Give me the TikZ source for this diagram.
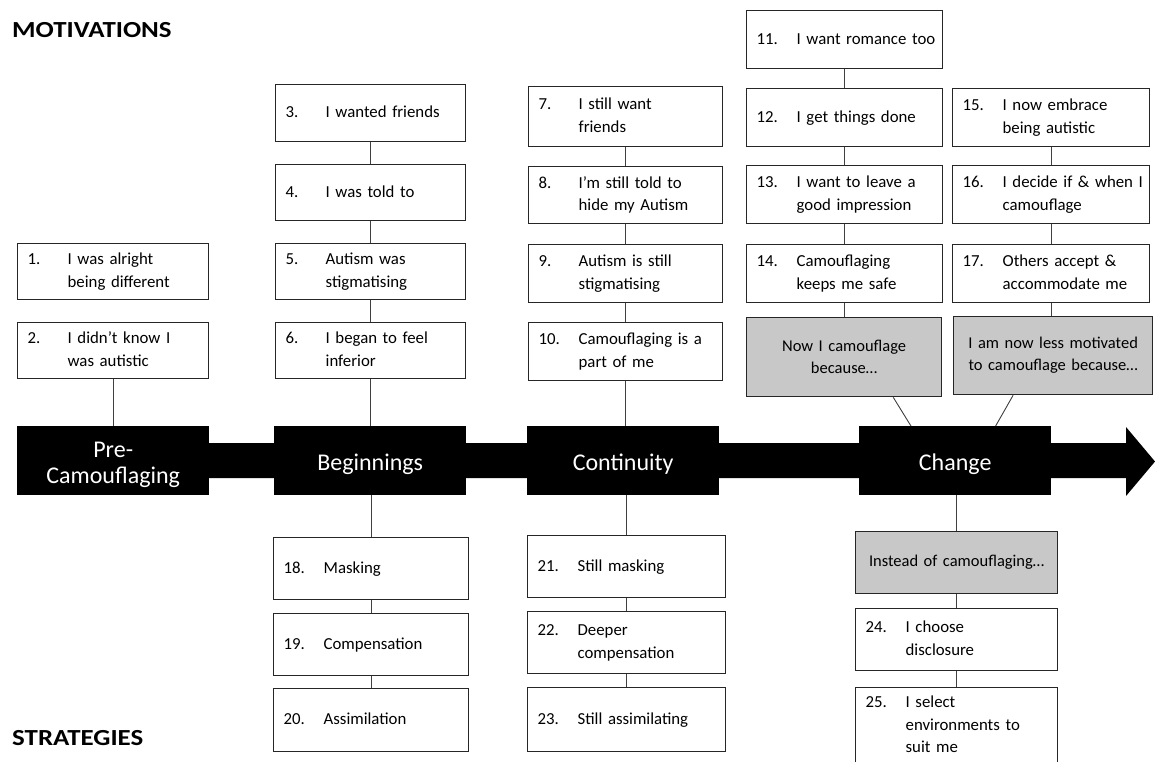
\documentclass[tikz,border=0pt]{standalone}
\usepackage{fontspec}
\setmainfont{Carlito}
\newfontfamily\itemf{Carlito}[WordSpace=0.5]
\usetikzlibrary{calc}
\definecolor{boxgray}{RGB}{200,200,200}
\newcommand{\mb}[2]{\begin{tabular}{@{}p{40pt}@{}l@{}}#1&#2\end{tabular}}
\newcommand{\ttl}[1]{\scalebox{1.17}[1]{#1}}
\begin{document}
\begin{tikzpicture}[x=1pt,y=-1pt,
  item/.style={draw=black!85, line width=1.3pt, fill=white, anchor=north west,
    inner xsep=10pt, inner ysep=0pt, align=left, font=\itemf\fontsize{16.8}{22.5}\selectfont},
  grayitem/.style={draw=black!85, line width=1.3pt, fill=boxgray, anchor=north west,
    inner xsep=4pt, inner ysep=0pt, align=center, font=\fontsize{16.5}{22}\selectfont},
  stage/.style={fill=black, text=white, anchor=north west, minimum width=192pt,
    minimum height=69pt, inner sep=0pt, align=center, font=\fontsize{24}{26}\selectfont},
  oneline/.style={text height=22pt, text depth=3pt},
  conn/.style={draw=black!75, line width=0.9pt},
  title/.style={anchor=west, inner sep=0pt, font=\fontsize{23}{25}\selectfont\bfseries}
]
\clip (0,0) rectangle (1155,761);
\fill[white] (0,0) rectangle (1155,761);

% titles
\node[title] (tmot) at (12,30) {\ttl{MOTIVATIONS}};
\node[title] (tstr) at (12,738) {\ttl{STRATEGIES}};

% arrow
\fill[black] (17,443) -- (1126,443) -- (1126,427) -- (1155,461.5) -- (1126,496) -- (1126,478) -- (17,478) -- cycle;

% stages
\node[stage] (pre) at (17,426) {\raisebox{-5pt}[\height][\depth]{\begin{tabular}{@{}c@{}}Pre-\\Camouflaging\end{tabular}}};
\node[stage, oneline] (beg) at (274,426) {Beginnings};
\node[stage, oneline] (con) at (527,426) {Continuity};
\node[stage, oneline] (chg) at (859,426) {Change};

% column 1
\node[item, text width=171pt, minimum height=56pt] (b1) at (17,243) {\mb{1.}{I was alright\\ & being different}};
\node[item, text width=171pt, minimum height=56pt] (b2) at (17,322) {\mb{2.}{I didn’t know I\\ & was autistic}};

% column 2
\node[item, text width=170pt, minimum height=57pt] (b3) at (275,84) {\mb{3.}{I wanted friends}};
\node[item, text width=170pt, minimum height=56pt] (b4) at (275,164) {\mb{4.}{I was told to}};
\node[item, text width=170pt, minimum height=56pt] (b5) at (275,243) {\mb{5.}{Autism was\\ & stigmatising}};
\node[item, text width=170pt, minimum height=56pt] (b6) at (275,322) {\mb{6.}{I began to feel\\ & inferior}};

% column 3
\node[item, text width=174pt, minimum height=60pt] (b7) at (528,86) {\mb{7.}{I still want\\ & friends}};
\node[item, text width=174pt, minimum height=57pt] (b8) at (528,166) {\mb{8.}{I’m still told to\\ & hide my Autism}};
\node[item, text width=174pt, minimum height=58pt] (b9) at (528,244) {\mb{9.}{Autism is still\\ & stigmatising}};
\node[item, text width=174pt, minimum height=58pt] (b10) at (528,322) {\mb{10.}{Camouflaging is a\\ & part of me}};

% column 4
\node[item, text width=176pt, minimum height=58pt] (b11) at (746,10) {\mb{11.}{I want romance too}};
\node[item, text width=176pt, minimum height=58pt] (b12) at (746,88) {\mb{12.}{I get things done}};
\node[item, text width=176pt, minimum height=58pt] (b13) at (746,165) {\mb{13.}{I want to leave a\\ & good impression}};
\node[item, text width=176pt, minimum height=58pt] (b14) at (746,244) {\mb{14.}{Camouflaging\\ & keeps me safe}};
\node[grayitem, text width=187pt, minimum height=79pt] (g1) at (746,317) {Now I camouflage\\because…};

% column 5
\node[item, text width=177pt, minimum height=58pt] (b15) at (952,88) {\mb{15.}{I now embrace\\ & being autistic}};
\node[item, text width=177pt, minimum height=58pt] (b16) at (952,165) {\mb{16.}{I decide if \& when I\\ & camouflage}};
\node[item, text width=177pt, minimum height=58pt] (b17) at (952,244) {\mb{17.}{Others accept \&\\ & accommodate me}};
\node[grayitem, text width=191pt, minimum height=78pt] (g2) at (953,316) {I am now less motivated\\to camouflage because…};

% bottom column 2
\node[item, text width=175pt, minimum height=62pt] (b18) at (273,537) {\mb{18.}{Masking}};
\node[item, text width=175pt, minimum height=62pt] (b19) at (273,613) {\mb{19.}{Compensation}};
\node[item, text width=175pt, minimum height=63pt] (b20) at (273,688) {\mb{20.}{Assimilation}};

% bottom column 3
\node[item, text width=178pt, minimum height=62pt] (b21) at (527,535) {\mb{21.}{Still masking}};
\node[item, text width=178pt, minimum height=62pt] (b22) at (527,611) {\mb{22.}{Deeper\\ & compensation}};
\node[item, text width=178pt, minimum height=64pt] (b23) at (527,687) {\mb{23.}{Still assimilating}};

% bottom column 4
\node[grayitem, text width=194pt, minimum height=62pt] (g3) at (855,531) {Instead of camouflaging…};
\node[item, text width=182pt, minimum height=62pt] (b24) at (855,608) {\mb{24.}{I choose\\ & disclosure}};
\node[item, text width=182pt, minimum height=76pt] (b25) at (855,687) {\mb{25.}{I select\\ & environments to\\ & suit me}};

% connectors (vertical)
\draw[conn] (b2.south) -- (b2.south |- pre.north);
\draw[conn] (b3.south) -- (b3.south |- b4.north);
\draw[conn] (b4.south) -- (b4.south |- b5.north);
\draw[conn] (b5.south) -- (b5.south |- b6.north);
\draw[conn] (b6.south) -- (b6.south |- beg.north);
\draw[conn] (b7.south) -- (b7.south |- b8.north);
\draw[conn] (b8.south) -- (b8.south |- b9.north);
\draw[conn] (b9.south) -- (b9.south |- b10.north);
\draw[conn] (b10.south) -- (b10.south |- con.north);
\draw[conn] (b11.south) -- (b11.south |- b12.north);
\draw[conn] (b12.south) -- (b12.south |- b13.north);
\draw[conn] (b13.south) -- (b13.south |- b14.north);
\draw[conn] (b14.south) -- (b14.south |- g1.north);
\draw[conn] (b15.south) -- (b15.south |- b16.north);
\draw[conn] (b16.south) -- (b16.south |- b17.north);
\draw[conn] (b17.south) -- (b17.south |- g2.north);
\draw[conn] ($(g1.south west)!0.75!(g1.south east)$) -- ($(chg.north west)!0.27!(chg.north east)$);
\draw[conn] ($(g2.south west)!0.30!(g2.south east)$) -- ($(chg.north west)!0.71!(chg.north east)$);
\draw[conn] (b18.north) -- (b18.north |- beg.south);
\draw[conn] (b18.south) -- (b18.south |- b19.north);
\draw[conn] (b19.south) -- (b19.south |- b20.north);
\draw[conn] (b21.north) -- (b21.north |- con.south);
\draw[conn] (b21.south) -- (b21.south |- b22.north);
\draw[conn] (b22.south) -- (b22.south |- b23.north);
\draw[conn] (g3.north) -- (g3.north |- chg.south);
\draw[conn] (g3.south) -- (g3.south |- b24.north);
\draw[conn] (b24.south) -- (b24.south |- b25.north);
\end{tikzpicture}
\end{document}
